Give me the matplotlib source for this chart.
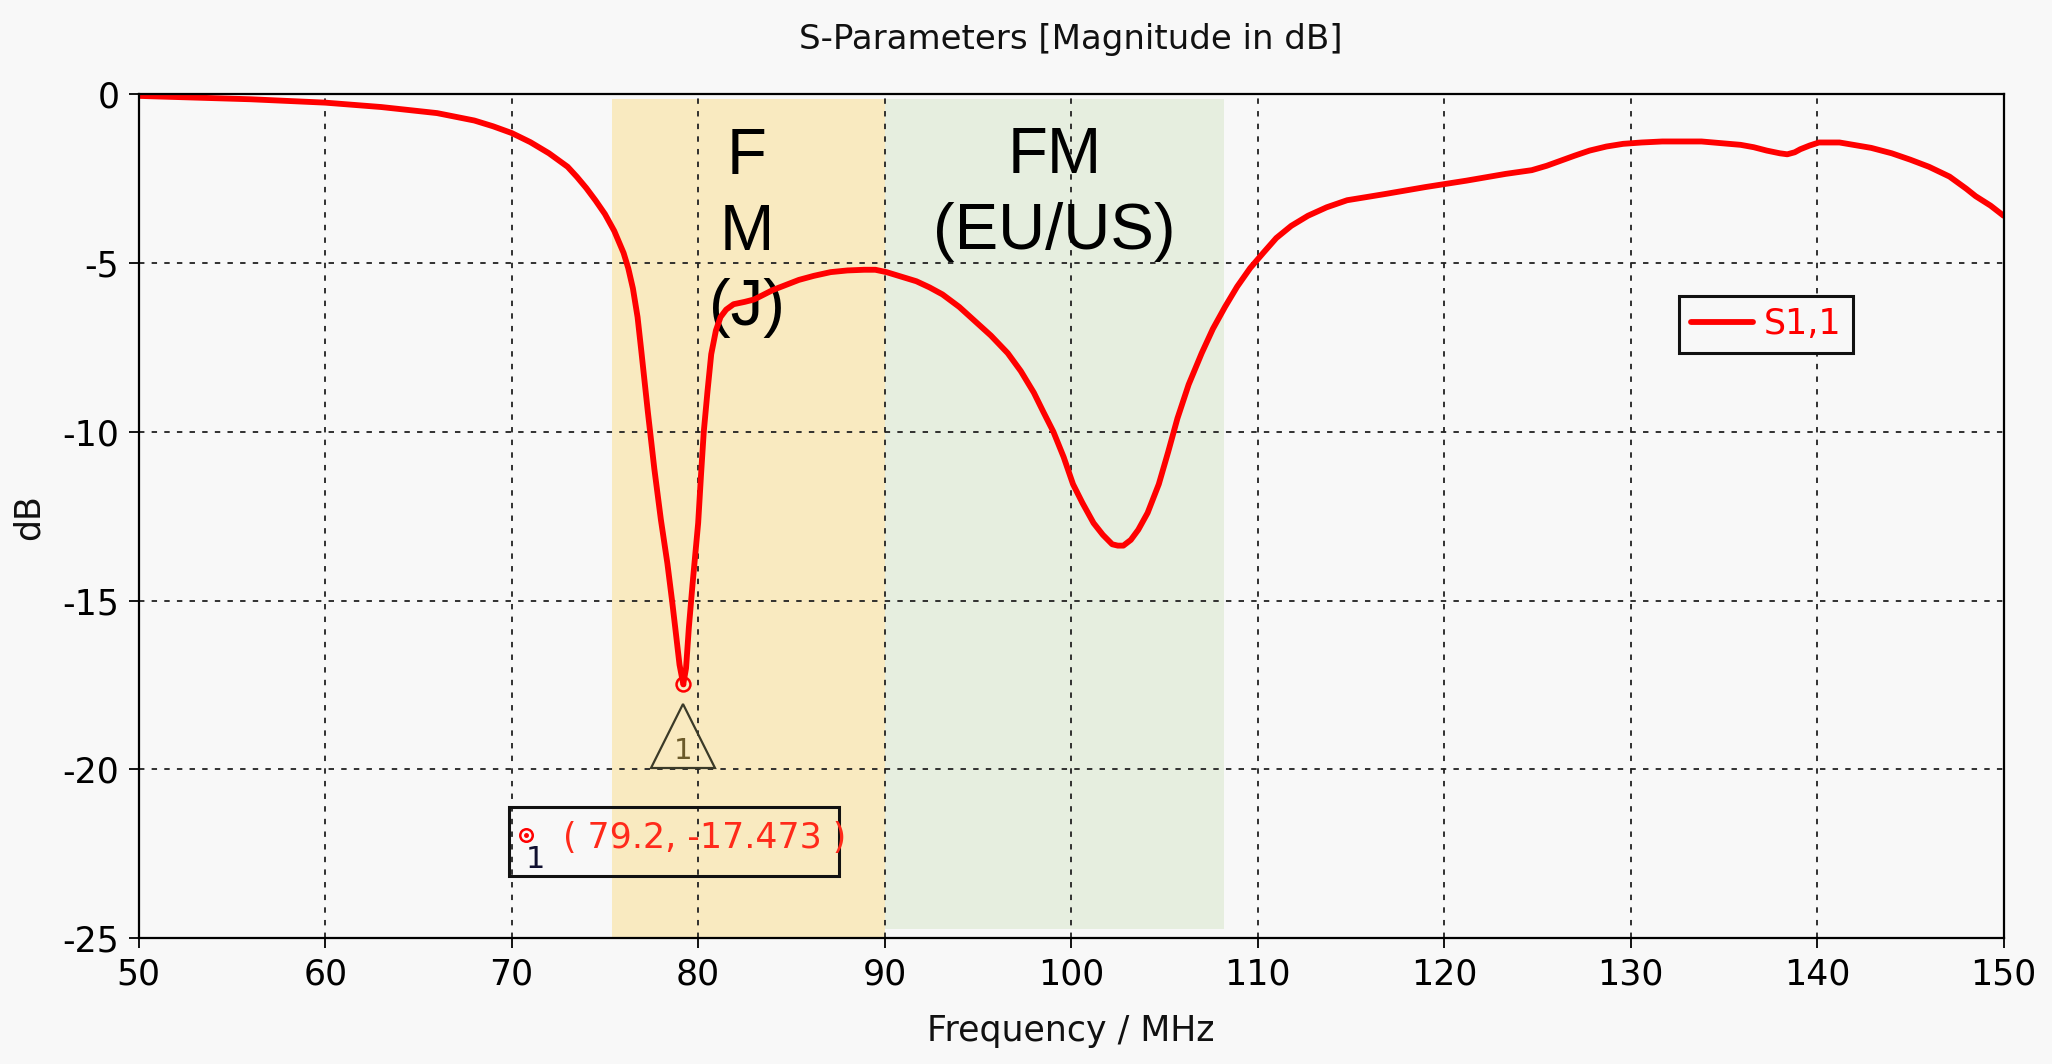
import matplotlib
matplotlib.use("Agg")
import matplotlib.pyplot as plt
from matplotlib.transforms import ScaledTranslation
from matplotlib.patches import Rectangle

# ---- data ----
freq_mhz = [50, 53, 56, 60, 63, 64.5, 66, 68, 69, 70, 71, 72, 73, 73.5, 74, 74.5,
            75.0, 75.5, 76, 76.25, 76.5, 76.75,
            76.95, 77.3, 77.65, 78.0, 78.35, 78.6, 78.77, 79.0, 79.2, 79.35, 79.5,
            79.7, 80.0, 80.15, 80.3, 80.5, 80.7, 80.95, 81.2, 81.5, 81.9,
            82.5, 83, 84, 85.4, 86.2, 87.1, 88, 88.9, 89.5, 90.1, 91.7, 92.4, 93.1,
            94, 94.8, 95.7, 96.6, 97.3, 98, 98.5, 99.05, 99.6, 100.1, 100.6, 101.2,
            101.7, 102.2, 102.5, 102.8, 103.2, 103.6, 104.1, 104.7, 105.2, 105.7,
            106.3, 107, 107.6, 108.25, 108.9, 109.6, 110.3, 111, 111.8, 112.7,
            113.7, 114.8, 115.8, 116.9, 119, 121.2, 123.3, 124.7, 125.5, 126.1,
            127, 127.8, 128.7, 129.6, 130.6, 131.7, 133.8, 135.9, 136.6, 137.3,
            138.0, 138.4, 138.8, 139.1, 139.6, 140.1, 141.2, 142.9, 144, 145, 146,
            147.1, 148, 148.5, 149.3, 150]
s11_db = [-0.05, -0.1, -0.15, -0.25, -0.38, -0.47, -0.56, -0.78, -0.95, -1.15,
          -1.42, -1.75, -2.15, -2.45, -2.78, -3.15, -3.55, -4.05, -4.7, -5.15, -5.75, -6.6,
          -7.6, -9.4, -11.1, -12.6, -13.9, -15.0, -15.8, -16.9, -17.473, -17.0, -15.8,
          -14.5, -12.7, -11.3, -10.0, -8.8, -7.7, -7.0, -6.6, -6.38, -6.22,
          -6.15, -6.08, -5.8, -5.5, -5.38, -5.27, -5.22, -5.2, -5.2, -5.27, -5.54,
          -5.72, -5.93, -6.3, -6.7, -7.15, -7.67, -8.2, -8.84, -9.4, -10.0, -10.75,
          -11.55, -12.1, -12.7, -13.05, -13.33, -13.37, -13.37, -13.2, -12.9, -12.4,
          -11.55, -10.6, -9.6, -8.6, -7.67, -6.95, -6.3, -5.7, -5.15, -4.7, -4.26,
          -3.9, -3.6, -3.35, -3.14, -3.05, -2.95, -2.75, -2.56, -2.36, -2.25, -2.12,
          -2.0, -1.82, -1.67, -1.55, -1.47, -1.43, -1.4, -1.4, -1.5, -1.57, -1.67,
          -1.75, -1.78, -1.72, -1.63, -1.52, -1.43, -1.43, -1.59, -1.75, -1.94, -2.15,
          -2.44, -2.8, -3.02, -3.3, -3.6]
series_name = "S1,1"
marker_f = 79.2
marker_db = -17.473
band_jp = (75.4, 90.0)
band_eu = (90.0, 108.2)
band_jp_label = "F\nM\n(J)"
band_eu_label = "FM\n(EU/US)"
x_ticks = [50, 60, 70, 80, 90, 100, 110, 120, 130, 140, 150]
y_ticks = [0, -5, -10, -15, -20, -25]

BG = "#f8f8f8"
RED = "#ff0000"

W, H = 2052, 1064
fig = plt.figure(figsize=(W / 100, H / 100), dpi=100, facecolor=BG)
left, right, top, bottom = 138.7, 2003.6, 94.2, 938.3
ax = fig.add_axes([left / W, 1 - bottom / H, (right - left) / W, (bottom - top) / H])
ax.set_facecolor(BG)

ax.set_xlim(50, 150)
ax.set_ylim(-25, 0)

# bands
ax.axvspan(*band_jp, ymin=0.0, ymax=1 - 0.15 / 25, color="#f9eac0", lw=0, zorder=0.5)
ax.axvspan(*band_eu, ymin=0.011, ymax=1 - 0.15 / 25, color="#e6eedf", lw=0, zorder=0.5)

# grid
ax.set_xticks(x_ticks)
ax.set_yticks(y_ticks)
ax.grid(True, color="#222222", linestyle=(0, (3, 4)), linewidth=1.3, zorder=1)
ax.set_axisbelow(True)

for s in ax.spines.values():
    s.set_color("black")
    s.set_linewidth(1.6)
    s.set_zorder(5)

ax.tick_params(direction="out", length=7, width=1.3, colors="black", pad=7)
ax.set_xticklabels([str(v) for v in x_ticks], fontsize=25)
ax.set_yticklabels([str(v) for v in y_ticks], fontsize=25)

# curve
ax.plot(freq_mhz, s11_db, color=RED, lw=4.2, zorder=4, label=series_name,
        solid_capstyle="round", solid_joinstyle="round")

# band labels
ax.text(82.6, -4.11, band_jp_label, ha="center", va="center",
        fontsize=47, family="Liberation Sans", linespacing=1.33, zorder=3)
ax.text(99.1, -2.95, band_eu_label, ha="center", va="center",
        fontsize=47, family="Liberation Sans", linespacing=1.33, zorder=3)

# marker at minimum
ax.plot([marker_f], [marker_db], marker="o", ms=10, mfc="none", mec=RED, mew=1.8, zorder=6)
ax.plot([marker_f], [marker_db], marker="o", ms=3, mfc=RED, mec=RED, zorder=6)
tri_tr = ax.transData + ScaledTranslation(0, -0.515, fig.dpi_scale_trans)
ax.plot([marker_f], [marker_db], marker="^", ms=46, mfc="none", mec="#3a3a28",
        mew=1.6, transform=tri_tr, zorder=6)
one_tr = ax.transData + ScaledTranslation(0, -0.67, fig.dpi_scale_trans)
ax.text(marker_f, marker_db, "1", transform=one_tr, ha="center", va="center",
        fontsize=21, color="#6b5a2a", zorder=6)

# marker readout box
ax.add_patch(Rectangle((0.1986, 0.0738), 0.1769, 0.0818, transform=ax.transAxes,
                       facecolor="none", edgecolor="#111111", lw=2.2, zorder=6))
ax.plot([0.2078], [0.1226], marker="o", ms=9, mfc="none", mec=RED, mew=1.8,
        transform=ax.transAxes, zorder=7)
ax.plot([0.2078], [0.1226], marker="o", ms=2.5, mfc=RED, mec=RED,
        transform=ax.transAxes, zorder=7)
ax.text(0.2126, 0.0928, "1", transform=ax.transAxes, ha="center", va="center",
        fontsize=22, color="#101030", zorder=7)
ax.text(0.2275, 0.1188, f"( {marker_f:g}, {marker_db:.3f} )", transform=ax.transAxes,
        ha="left", va="center", fontsize=25, color="#ff2a1a", zorder=7)

# legend
leg = ax.legend(loc="upper left", bbox_to_anchor=(0.826, 0.761), frameon=True,
                fancybox=False, edgecolor="#111111", facecolor=BG, framealpha=1,
                fontsize=25, handlelength=1.8, handletextpad=0.3, borderpad=0.33,
                borderaxespad=0)
leg.get_frame().set_linewidth(2.2)
for t in leg.get_texts():
    t.set_color(RED)

# titles
cx = (left + right) / 2 / W
fig.text(cx, 1 - 40 / H, "S-Parameters [Magnitude in dB]", ha="center", va="center",
         fontsize=24.5, color="#111111")
fig.text(cx, 1 - 1031 / H, "Frequency / MHz", ha="center", va="center",
         fontsize=25, color="#111111")
fig.text(29 / W, 1 - 517 / H, "dB", ha="center", va="center", rotation=90,
         fontsize=25, color="#111111")

fig.savefig("out.png", dpi=100, facecolor=BG)
